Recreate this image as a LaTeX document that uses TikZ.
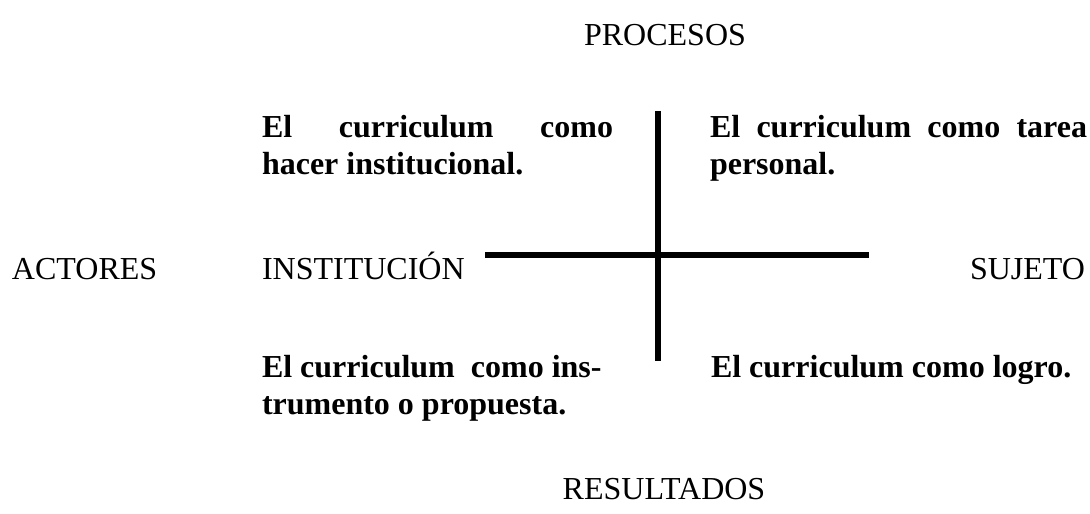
\documentclass[tikz,border=0pt]{standalone}
\usepackage{fontspec}
\setmainfont{Liberation Serif}
\begin{document}
\begin{tikzpicture}[x=1pt,y=1pt,
  lbl/.style={inner sep=0pt,outer sep=0pt,font=\fontsize{32}{37}\selectfont},
  quad/.style={lbl,font=\fontsize{32}{37}\selectfont\bfseries,align=left},
  axis/.style={line width=5.5pt}]
\useasboundingbox (0,0) rectangle (1090,514);
% top / bottom labels
\node[lbl,anchor=base] (proc) at (665,468) {PROCESOS};
\node[lbl,anchor=base] (res) at (664,14) {RESULTADOS};
% middle row
\node[lbl,anchor=base west] (act) at (12,234) {ACTORES};
\node[lbl,anchor=base west] (inst) at (262,234) {INSTITUCIÓN};
\node[lbl,anchor=base east] (suj) at (1085,234) {SUJETO};
% quadrants (base anchor = baseline of the last line)
\node[quad,anchor=base west] (q1) at (262,339) {\makebox[351pt][s]{El curriculum como}\\hacer institucional.};
\node[quad,anchor=base west] (q2) at (710,339) {\makebox[377pt][s]{El curriculum como tarea}\\personal.};
\node[quad,anchor=base west] (q3) at (262,99) {El curriculum\ \ como ins-\\trumento o propuesta.};
\node[quad,anchor=base west] (q4) at (711,136) {El curriculum como logro.};
% axes
\coordinate (vt) at (658,403);
\coordinate (vb) at (658,153);
\coordinate (hl) at (485,259);
\coordinate (hr) at (869,259);
\draw[axis] (vt) -- (vb);
\draw[axis] (hl) -- (hr);
\end{tikzpicture}
\end{document}
